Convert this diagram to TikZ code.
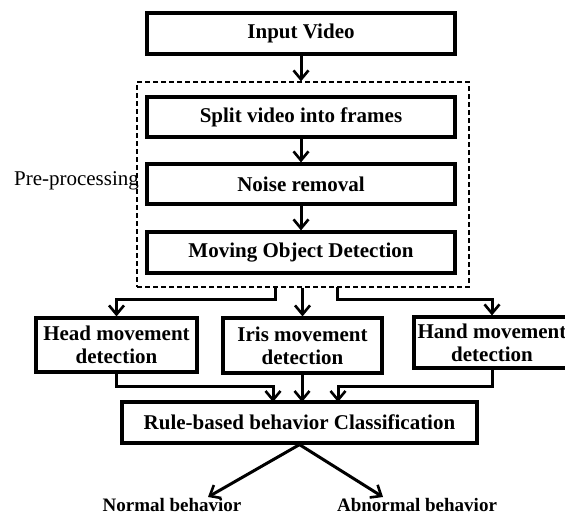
\documentclass[tikz,border=0pt]{standalone}
\usepackage{fontspec}
\setmainfont{Liberation Serif}
\usetikzlibrary{arrows.meta}
\begin{document}
\begin{tikzpicture}[x=1pt,y=-1pt,
  box/.style={draw=black,line width=3.2pt,fill=white,inner sep=0pt,align=center,
    font=\bfseries\fontsize{21}{23}\selectfont},
  arr/.style={line width=3pt,-{Straight Barb[length=9pt,width=15pt,line width=2.6pt]}},
  lbl/.style={inner sep=0pt,font=\bfseries\fontsize{19}{21}\selectfont}]
\useasboundingbox (0,0) rectangle (565,515);
\node[draw=black,line width=1.2pt,dash pattern=on 5pt off 3pt,minimum width=332pt,minimum height=205pt,inner sep=0pt] (pre) at (303,184.5) {};
\node[box,minimum width=308pt,minimum height=41pt] (inp) at (301,33.5) {Input Video};
\node[box,minimum width=308pt,minimum height=40pt] (split) at (301,117) {Split video into frames};
\node[box,minimum width=308pt,minimum height=40pt] (noise) at (301,184) {Noise removal};
\node[box,minimum width=308pt,minimum height=41pt] (mov) at (301,252.5) {Moving Object Detection};
\node[inner sep=0pt,anchor=base,font=\fontsize{21}{23}\selectfont] (ptxt) at (76.5,185) {Pre-processing};
\node[box,minimum width=161pt,minimum height=54pt] (head) at (116.5,345) {Head movement\\detection};
\node[box,minimum width=159pt,minimum height=55pt] (iris) at (302.5,345.5) {Iris movement\\detection};
\node[box,minimum width=156pt,minimum height=51pt] (hand) at (492,342.5) {Hand movement\\detection};
\node[box,minimum width=355pt,minimum height=41pt] (rule) at (299.5,422.5) {Rule-based behavior Classification};
\node[lbl,anchor=base] (nb) at (172,511) {Normal behavior};
\node[lbl,anchor=base] (ab) at (417,511) {Abnormal behavior};
\coordinate (b1) at (275,287);
\coordinate (b3) at (337,287);
\coordinate (lv1) at (0,299);
\coordinate (lv2) at (0,386);
\coordinate (r1) at (273,402);
\coordinate (r2) at (302,402);
\coordinate (r3) at (338,402);
\coordinate (ne) at (208,497);
\coordinate (ae) at (383,497);
\draw[arr] (inp.south) -- (inp.south |- pre.north);
\draw[arr] (split) -- (noise);
\draw[arr] (noise) -- (mov);
\draw[arr] (b1) -- (b1 |- lv1) -| (head.north);
\draw[arr] (pre.south -| iris.north) -- (iris.north);
\draw[arr] (b3) -- (b3 |- lv1) -| (hand.north);
\draw[arr] (head.south) -- (head.south |- lv2) -| (r1);
\draw[arr] (iris.south -| r2) -- (r2);
\draw[arr] (hand.south) -- (hand.south |- lv2) -| (r3);
\draw[arr] (rule.south) -- (ne);
\draw[arr] (rule.south) -- (ae);
\end{tikzpicture}
\end{document}
